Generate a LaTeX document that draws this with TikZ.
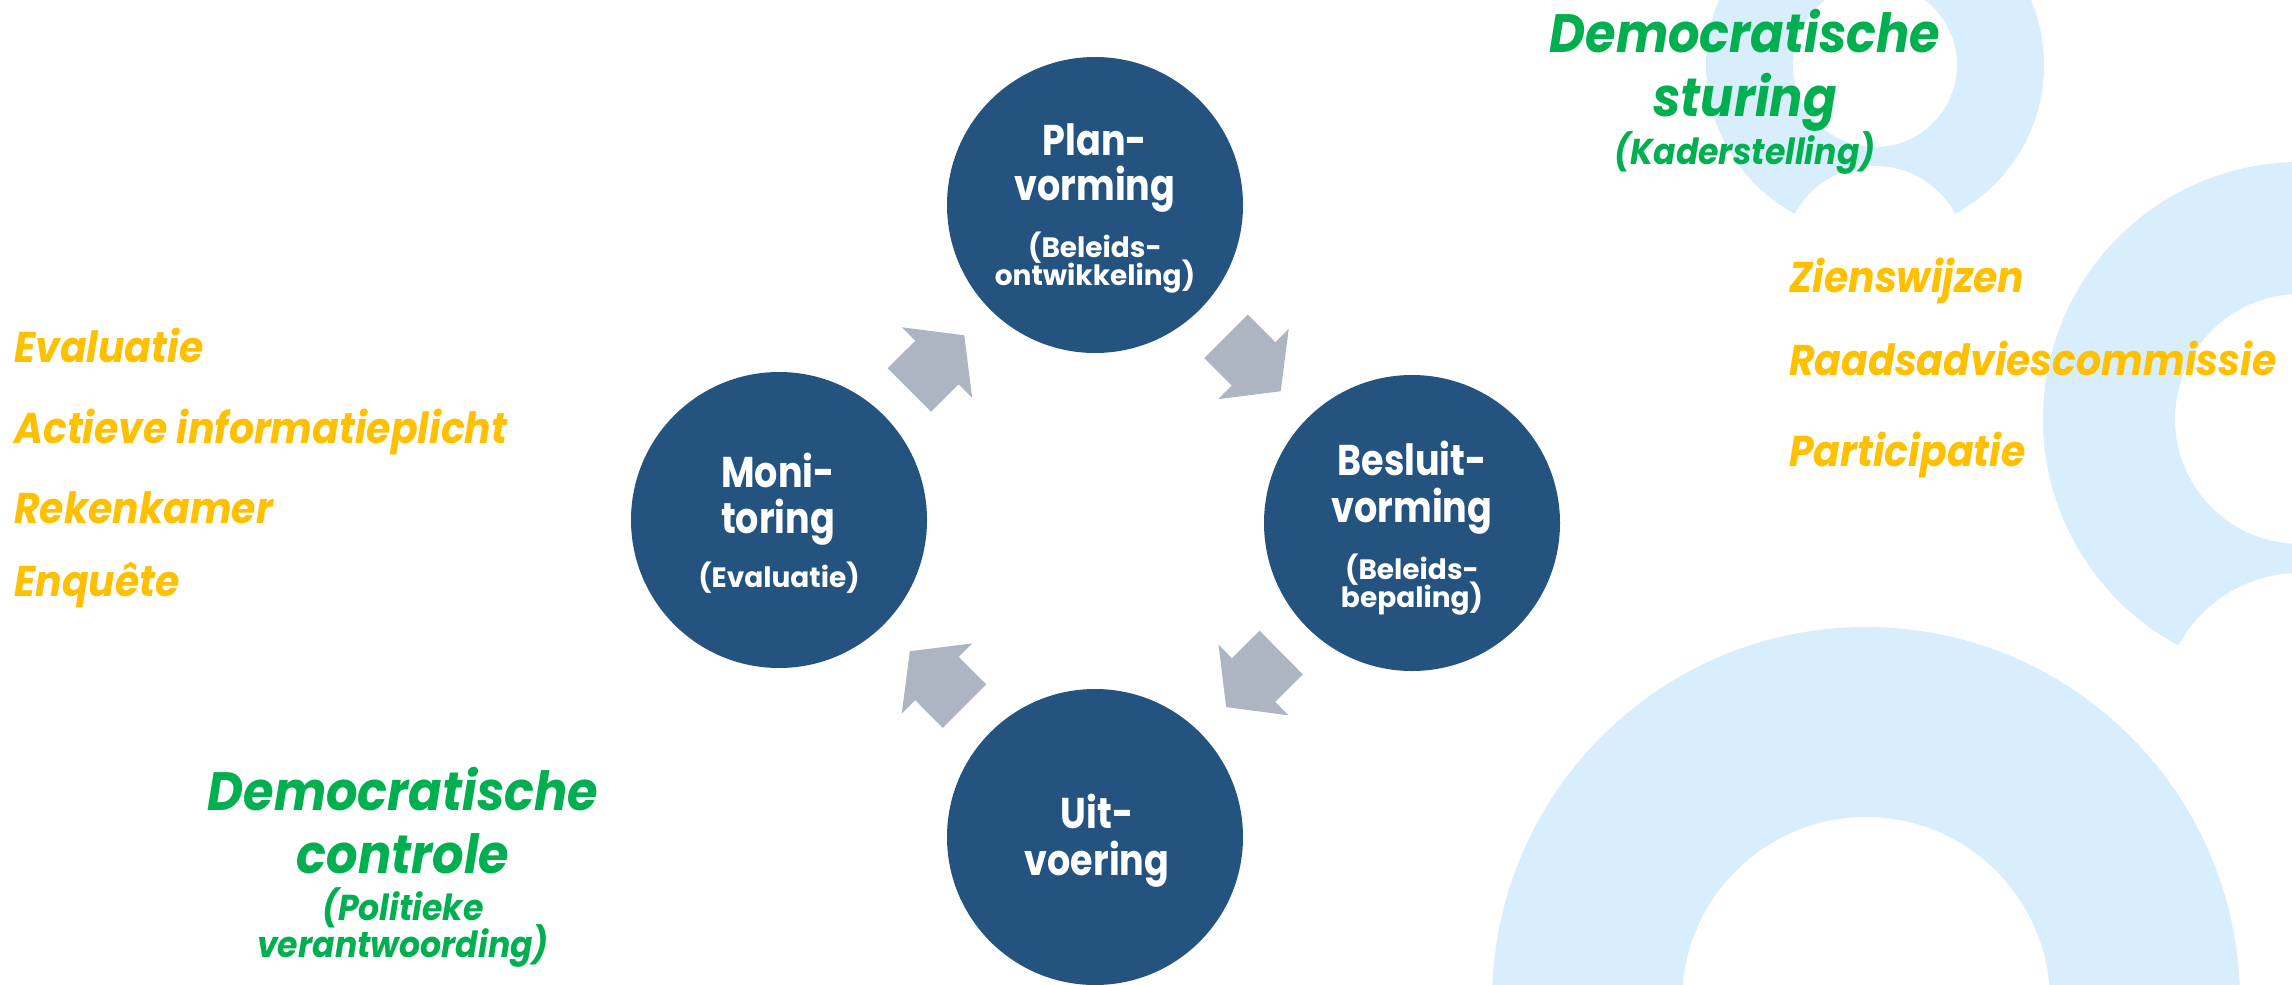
\documentclass[tikz,border=0pt]{standalone}
\usepackage{fontspec}
\setmainfont{Poppins}
\newfontfamily\stagefont{Poppins}[FakeStretch=0.85]
\newfontfamily\stagesubfont{Poppins}[FakeStretch=1.0]
\newfontfamily\listfont{Poppins}[FakeStretch=0.915]
\newfontfamily\demofont{Poppins}[FakeStretch=0.915]
\newfontfamily\demosubfont{Poppins}[FakeStretch=0.92]
\usetikzlibrary{calc}
\definecolor{circleblue}{HTML}{245380}
\definecolor{arrowgray}{HTML}{ADB5C3}
\definecolor{ringblue}{HTML}{D9EEFC}
\definecolor{demogreen}{HTML}{00B050}
\definecolor{listyellow}{HTML}{FFC000}
\tikzset{
 stage/.style={circle, fill=circleblue, minimum size=296pt, inner sep=0pt},
 stagemain/.style={text=white, font=\stagefont\bfseries\fontsize{43}{43}\selectfont, anchor=base, inner sep=0pt},
 stagesub/.style={text=white, font=\stagesubfont\bfseries\fontsize{28}{28}\selectfont, anchor=base, inner sep=0pt},
 listitem/.style={text=listyellow, font=\listfont\bfseries\itshape\fontsize{43}{43}\selectfont, anchor=base west, inner sep=0pt},
 demobig/.style={text=demogreen, font=\demofont\bfseries\itshape\fontsize{54}{54}\selectfont, anchor=base, inner sep=0pt},
 demosmall/.style={text=demogreen, font=\demosubfont\bfseries\itshape\fontsize{36}{36}\selectfont, anchor=base, inner sep=0pt},
 arrowfill/.style={fill=arrowgray},
 ringfill/.style={fill=ringblue, even odd rule},
}
\newcommand{\flowarrow}[2]{%
  \coordinate (M) at ($(#1)!0.5!(#2)$);
  \coordinate (A0) at ($(M)!-39pt!(#2)$);
  \coordinate (T0) at ($(M)!38.5pt!(#2)$);
  \fill[arrowfill] ($(A0)!30.75pt!90:(#2)$) -- ($(M)!30.75pt!90:(#2)$) -- ($(M)!49.75pt!90:(#2)$) -- (T0)
     -- ($(M)!49.75pt!-90:(#2)$) -- ($(M)!30.75pt!-90:(#2)$) -- ($(A0)!30.75pt!-90:(#2)$) -- cycle;
}
\begin{document}
\begin{tikzpicture}[x=1pt,y=-1pt]
\clip (0,0) rectangle (2292,985);
\fill[white] (0,0) rectangle (2292,985);
% background rings
\fill[ringfill] (1875,65) circle[radius=169] (1875,65) circle[radius=82];
\fill[white] (1875,257) circle[radius=91];
\fill[ringfill] (2300,419) circle[radius=257] (2300,419) circle[radius=125];
\fill[white] (2300,711) circle[radius=138];
\fill[ringfill] (1866,1001) circle[radius=374] (1866,1001) circle[radius=184];
% stages
\node[stage] (plan) at (1095,205) {};
\node[stage] (besluit) at (1412,523) {};
\node[stage] (uit) at (1095,837) {};
\node[stage] (moni) at (779,520) {};
% arrows
\flowarrow{moni}{plan}
\flowarrow{plan}{besluit}
\flowarrow{besluit}{uit}
\flowarrow{uit}{moni}
% stage texts
\node[stagemain] (p1) at (1095,155) {Plan-};
\node[stagemain] (p2) at (1095,200) {vorming};
\node[stagesub] (p3) at (1095,257) {(Beleids-};
\node[stagesub] (p4) at (1095,285) {ontwikkeling)};
\node[stagemain] (b1) at (1412,475) {Besluit-};
\node[stagemain] (b2) at (1412,522) {vorming};
\node[stagesub] (b3) at (1412,579) {(Beleids-};
\node[stagesub] (b4) at (1412,607) {bepaling)};
\node[stagemain] (u1) at (1097,828) {Uit-};
\node[stagemain] (u2) at (1097,875) {voering};
\node[stagemain] (m1) at (778,487) {Moni-};
\node[stagemain] (m2) at (778,533) {toring};
\node[stagesub] (m3) at (779,587) {(Evaluatie)};
% democratic labels
\node[demobig] (ds1) at (1745,52) {Democratische};
\node[demobig] (ds2) at (1745,116) {sturing};
\node[demosmall] (ds3) at (1745,164) {(Kaderstelling)};
\node[demobig] (dc1) at (403,810) {Democratische};
\node[demobig] (dc2) at (403,873) {controle};
\node[demosmall] (dc3) at (403,920) {(Politieke};
\node[demosmall] (dc4) at (403,957) {verantwoording)};
% lists
\node[listitem] (l1) at (14,362) {Evaluatie};
\node[listitem] (l2) at (14,443) {Actieve informatieplicht};
\node[listitem] (l3) at (14,523) {Rekenkamer};
\node[listitem] (l4) at (14,596) {Enquête};
\node[listitem] (r1) at (1789,292) {Zienswijzen};
\node[listitem] (r2) at (1789,375) {Raadsadviescommissie};
\node[listitem] (r3) at (1789,466) {Participatie};
\end{tikzpicture}
\end{document}
